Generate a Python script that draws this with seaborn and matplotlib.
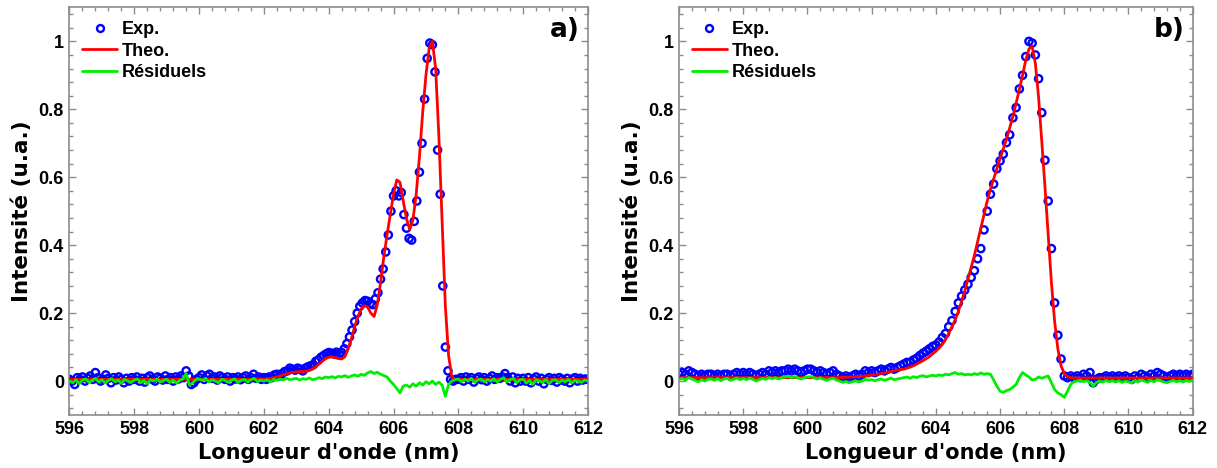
import numpy as np
import pandas as pd
import matplotlib
matplotlib.use("Agg")
import matplotlib.pyplot as plt
from matplotlib.lines import Line2D
from matplotlib.ticker import MultipleLocator, AutoMinorLocator
import seaborn as sns

# ---- panel a) : experimental points (grid 596 -> 612, step 0.08 nm)
exp_a = [
    0.005, 0.0, -0.01, 0.01, 0.005, 0.012, 0.0, 0.008, 0.015, 0.005, 0.025, 0.01, 0.0,
    0.005, 0.018, 0.008, -0.005, 0.01, 0.003, 0.012, 0.005, -0.005, 0.008, 0.0, 0.01,
    0.005, 0.012, 0.0, 0.008, -0.003, 0.01, 0.015, 0.005, 0.0, 0.012, 0.008, 0.003, 0.015,
    0.005, 0.01, 0.0, 0.012, 0.006, 0.015, 0.01, 0.03, 0.015, -0.01, -0.005, 0.005,
    0.01, 0.018, 0.005, 0.015, 0.02, 0.008, 0.012, 0.003, 0.015, 0.01, 0.005, 0.012, 0.0,
    0.01, 0.006, 0.012, 0.004, 0.01, 0.015, 0.005, 0.01, 0.02, 0.008, 0.012, 0.005,
    0.01, 0.005, 0.012, 0.01, 0.018, 0.02, 0.015, 0.022, 0.028, 0.03, 0.038, 0.035, 0.032,
    0.038, 0.035, 0.03, 0.038, 0.042, 0.045, 0.048, 0.058, 0.062, 0.07, 0.075, 0.08,
    0.084, 0.082, 0.08, 0.085, 0.08, 0.084, 0.095, 0.11, 0.13, 0.15, 0.175, 0.2, 0.22,
    0.23, 0.237, 0.235, 0.228, 0.225, 0.242, 0.26, 0.3, 0.33, 0.38, 0.43, 0.5,
    0.545, 0.56, 0.545, 0.555, 0.49, 0.45, 0.42, 0.415, 0.47, 0.53, 0.615, 0.70, 0.83,
    0.95, 0.995, 0.99, 0.91, 0.68, 0.55, 0.28, 0.1, 0.03, 0.005, 0.0, 0.005,
    0.005, 0.01, 0.0, 0.012, 0.005, 0.01, -0.003, 0.008, 0.012, 0.004, 0.01, 0.0, 0.008,
    0.015, 0.005, 0.01, 0.008, 0.012, 0.022, 0.01, 0.0, 0.012, -0.005, 0.008, 0.0,
    0.008, 0.0, 0.01, -0.005, 0.006, 0.012, 0.0, 0.008, -0.008, 0.005, 0.01, 0.002, 0.008,
    -0.003, 0.01, 0.005, 0.0, 0.008, -0.005, 0.006, 0.01, 0.0, 0.008, 0.003, 0.006,
    0.005,
]

# ---- panel a) : fit and residuals (grid 596 -> 612, step 0.1 nm)
theo_a = [
    0.005, 0.005, 0.005, 0.005, 0.005, 0.005, 0.005, 0.005, 0.005, 0.005,
    0.005, 0.005, 0.005, 0.005, 0.005, 0.005, 0.005, 0.005, 0.005, 0.005,
    0.005, 0.005, 0.005, 0.005, 0.005, 0.005, 0.005, 0.005, 0.005, 0.005,
    0.005, 0.005, 0.005, 0.005, 0.005, 0.005, 0.005, 0.005, 0.005, 0.005,
    0.005, 0.005, 0.005, 0.005, 0.005, 0.005, 0.005, 0.005, 0.005, 0.005,
    0.005, 0.005, 0.005, 0.005, 0.005, 0.005, 0.005, 0.005, 0.006, 0.006,
    0.006, 0.006, 0.008, 0.01, 0.012, 0.015, 0.018, 0.021, 0.024, 0.026,
    0.027, 0.028, 0.028, 0.029, 0.031, 0.035, 0.042, 0.05, 0.058, 0.066,
    0.07, 0.071, 0.069, 0.066, 0.065, 0.072, 0.095, 0.125, 0.16, 0.19,
    0.212, 0.222, 0.218, 0.2, 0.19, 0.225, 0.29, 0.365, 0.43, 0.49,
    0.55, 0.592, 0.585, 0.53, 0.478, 0.446, 0.475, 0.55, 0.66, 0.79,
    0.9, 0.98, 1.0, 0.92, 0.72, 0.47, 0.22, 0.075, 0.012, 0.005,
    0.005, 0.005, 0.005, 0.005, 0.005, 0.005, 0.005, 0.005, 0.005, 0.005,
    0.005, 0.005, 0.005, 0.005, 0.005, 0.005, 0.005, 0.005, 0.005, 0.005,
    0.005, 0.005, 0.005, 0.005, 0.005, 0.005, 0.005, 0.005, 0.005, 0.005,
    0.005, 0.005, 0.005, 0.005, 0.005, 0.005, 0.005, 0.005, 0.005, 0.005,
    0.005,
]
res_a = [
    0.0, -0.005, 0.004, -0.008, 0.003, 0.006, -0.004, 0.002, 0.008, -0.003,
    0.004, -0.006, 0.002, 0.007, -0.002, 0.003, -0.007, 0.005, 0.0, -0.004,
    0.003, 0.006, -0.005, 0.002, -0.008, 0.004, 0.0, 0.006, -0.003, 0.002,
    0.005, -0.004, 0.003, -0.006, 0.002, 0.006, 0.022, -0.012, -0.005, 0.004,
    0.006, 0.002, 0.008, -0.003, 0.004, 0.0, -0.005, 0.005, 0.002, -0.004,
    0.003, 0.006, -0.004, 0.002, 0.005, -0.003, 0.004, 0.008, -0.002, 0.003,
    0.0, 0.004, -0.003, 0.005, 0.002, 0.006, 0.003, 0.008, 0.004, 0.006,
    0.008, 0.003, 0.007, 0.005, 0.009, 0.004, 0.006, 0.01, 0.007, 0.012,
    0.01, 0.013, 0.009, 0.014, 0.012, 0.016, 0.011, 0.015, 0.018, 0.014,
    0.02, 0.017, 0.024, 0.028, 0.022, 0.026, 0.02, 0.016, 0.012, 0.0,
    -0.01, -0.022, -0.035, -0.015, -0.012, -0.018, -0.008, -0.015, -0.005, -0.012,
    -0.002, -0.008, 0.0, -0.01, -0.003, -0.012, -0.045, -0.01, 0.0, 0.004,
    0.006, -0.002, 0.005, 0.0, 0.008, -0.004, 0.003, 0.006, -0.002, 0.004,
    0.0, 0.007, -0.003, 0.005, 0.01, -0.002, 0.004, 0.008, -0.005, 0.003,
    0.006, -0.006, 0.002, -0.01, 0.004, 0.0, -0.004, 0.005, -0.008, 0.002,
    0.004, -0.005, 0.003, -0.002, 0.005, -0.006, 0.002, 0.0, -0.004, 0.003,
    0.0,
]

# ---- panel b) : everything on grid 596 -> 612, step 0.1 nm
exp_b = [
    0.02, 0.025, 0.02, 0.03, 0.025, 0.02, 0.015, 0.02, 0.015, 0.02,
    0.02, 0.015, 0.02, 0.015, 0.02, 0.02, 0.015, 0.02, 0.025, 0.02,
    0.025, 0.02, 0.025, 0.02, 0.015, 0.02, 0.025, 0.02, 0.03, 0.025,
    0.03, 0.025, 0.03, 0.03, 0.035, 0.03, 0.035, 0.03, 0.025, 0.03,
    0.035, 0.035, 0.03, 0.025, 0.03, 0.025, 0.02, 0.025, 0.03, 0.02,
    0.015, 0.01, 0.015, 0.01, 0.015, 0.02, 0.015, 0.02, 0.03, 0.025,
    0.03, 0.025, 0.03, 0.035, 0.03, 0.035, 0.04, 0.035, 0.04, 0.045,
    0.05, 0.055, 0.055, 0.062, 0.067, 0.075, 0.082, 0.088, 0.095, 0.102,
    0.106, 0.115, 0.128, 0.14, 0.16, 0.178, 0.205, 0.23, 0.25, 0.268,
    0.285, 0.305, 0.325, 0.36, 0.39, 0.445, 0.5, 0.55, 0.58, 0.625,
    0.648, 0.668, 0.702, 0.725, 0.775, 0.805, 0.86, 0.9, 0.955, 1.0,
    0.995, 0.96, 0.89, 0.79, 0.65, 0.53, 0.39, 0.23, 0.135, 0.065,
    0.015, 0.01, 0.015, 0.01, 0.015, 0.01, 0.02, 0.015, 0.025, -0.005,
    0.005, 0.01, 0.01, 0.015, 0.01, 0.015, 0.01, 0.015, 0.01, 0.015,
    0.01, 0.005, 0.015, 0.01, 0.02, 0.015, 0.01, 0.02, 0.015, 0.025,
    0.02, 0.015, 0.01, 0.015, 0.02, 0.015, 0.02, 0.015, 0.02, 0.015,
    0.02,
]
theo_b = [
    0.01, 0.01, 0.01, 0.01, 0.01, 0.01, 0.01, 0.01, 0.01, 0.01,
    0.01, 0.01, 0.01, 0.01, 0.01, 0.01, 0.01, 0.01, 0.01, 0.01,
    0.01, 0.01, 0.01, 0.01, 0.01, 0.01, 0.01, 0.01, 0.01, 0.01,
    0.01, 0.01, 0.01, 0.01, 0.01, 0.01, 0.01, 0.01, 0.01, 0.01,
    0.01, 0.01, 0.01, 0.01, 0.01, 0.01, 0.01, 0.01, 0.01, 0.01,
    0.01, 0.011, 0.011, 0.012, 0.012, 0.013, 0.013, 0.014, 0.015, 0.016,
    0.018, 0.019, 0.02, 0.022, 0.024, 0.026, 0.028, 0.03, 0.032, 0.034,
    0.035, 0.038, 0.041, 0.045, 0.05, 0.055, 0.06, 0.066, 0.072, 0.08,
    0.088, 0.097, 0.108, 0.122, 0.14, 0.16, 0.18, 0.205, 0.235, 0.265,
    0.3, 0.335, 0.37, 0.41, 0.45, 0.49, 0.53, 0.565, 0.595, 0.625,
    0.655, 0.683, 0.712, 0.745, 0.78, 0.818, 0.858, 0.9, 0.945, 0.978,
    0.985, 0.935, 0.835, 0.705, 0.57, 0.43, 0.29, 0.175, 0.095, 0.045,
    0.022, 0.013, 0.01, 0.009, 0.009, 0.009, 0.009, 0.009, 0.009, 0.009,
    0.009, 0.009, 0.009, 0.009, 0.009, 0.009, 0.009, 0.009, 0.009, 0.009,
    0.009, 0.009, 0.009, 0.009, 0.009, 0.009, 0.009, 0.009, 0.009, 0.009,
    0.009, 0.009, 0.009, 0.009, 0.009, 0.009, 0.009, 0.009, 0.009, 0.009,
    0.009,
]
res_b = [
    0.005, 0.008, 0.003, 0.01, 0.006, 0.002, -0.002, 0.004, 0.0, 0.005,
    0.006, 0.002, 0.007, 0.001, 0.006, 0.008, 0.002, 0.005, 0.009, 0.004,
    0.008, 0.004, 0.009, 0.005, 0.0, 0.004, 0.008, 0.005, 0.01, 0.007,
    0.01, 0.006, 0.01, 0.012, 0.014, 0.01, 0.013, 0.009, 0.006, 0.01,
    0.012, 0.013, 0.01, 0.006, 0.009, 0.005, 0.002, 0.006, 0.008, 0.003,
    0.0, -0.004, -0.001, -0.005, -0.002, 0.001, -0.003, 0.0, 0.005, 0.003,
    0.004, 0.001, 0.004, 0.006, 0.002, 0.005, 0.009, 0.004, 0.006, 0.008,
    0.01, 0.012, 0.008, 0.013, 0.01, 0.014, 0.016, 0.012, 0.015, 0.017,
    0.015, 0.018, 0.016, 0.02, 0.018, 0.022, 0.025, 0.02, 0.022, 0.018,
    0.02, 0.018, 0.022, 0.019, 0.024, 0.02, 0.022, 0.02, 0.003, -0.015,
    -0.03, -0.033, -0.028, -0.025, -0.018, -0.01, 0.01, 0.025, 0.018, 0.012,
    0.003, 0.005, 0.012, 0.008, 0.012, 0.015, -0.005, -0.025, -0.035, -0.04,
    -0.048, -0.03, -0.01, -0.002, 0.0, 0.002, -0.002, 0.001, -0.004, -0.015,
    -0.004, 0.0, -0.003, 0.002, -0.002, 0.001, -0.003, 0.001, -0.004, 0.0,
    -0.002, -0.006, 0.002, -0.003, 0.003, 0.0, -0.004, 0.002, -0.002, 0.004,
    0.001, -0.003, -0.005, -0.001, 0.002, -0.002, 0.001, -0.003, 0.002, -0.001,
    0.002,
]

wl_min, wl_max = 596, 612

sns.set_theme(style="ticks")
plt.rcParams["font.family"] = ["Liberation Sans", "DejaVu Sans"]
plt.rcParams["font.weight"] = "bold"
plt.rcParams["text.color"] = "black"
plt.rcParams["axes.labelcolor"] = "black"
plt.rcParams["xtick.labelcolor"] = "black"
plt.rcParams["ytick.labelcolor"] = "black"

BLUE = "#0000ff"
RED = "#ff0000"
GREEN = "#00ee00"
FRAME = "#8c8c8c"


def draw_panel(ax, y_exp, y_theo, y_res, tag):
    x_exp = np.linspace(wl_min, wl_max, len(y_exp))
    x_fit = np.linspace(wl_min, wl_max, len(y_theo))
    df_exp = pd.DataFrame({"wl": x_exp, "I": y_exp})
    df_fit = pd.DataFrame({"wl": x_fit, "theo": y_theo, "res": y_res})

    sns.scatterplot(data=df_exp, x="wl", y="I", ax=ax, marker="o", s=27,
                    facecolors="none", edgecolor=BLUE, linewidth=1.7, zorder=2)
    sns.lineplot(data=df_fit, x="wl", y="theo", ax=ax, color=RED,
                 linewidth=2.0, zorder=3)
    sns.lineplot(data=df_fit, x="wl", y="res", ax=ax, color=GREEN,
                 linewidth=2.0, zorder=4)

    ax.set_xlim(wl_min, wl_max)
    ax.set_ylim(-0.1, 1.1)
    ax.xaxis.set_major_locator(MultipleLocator(2))
    ax.xaxis.set_minor_locator(AutoMinorLocator(5))
    ax.yaxis.set_major_locator(MultipleLocator(0.2))
    ax.yaxis.set_minor_locator(AutoMinorLocator(5))
    ax.set_yticks([0, 0.2, 0.4, 0.6, 0.8, 1.0])
    ax.set_yticklabels(["0", "0.2", "0.4", "0.6", "0.8", "1"])

    ax.tick_params(which="both", direction="in", top=True, right=True,
                   color=FRAME, width=1.0)
    ax.tick_params(which="major", length=5)
    ax.tick_params(which="minor", length=3)
    ax.tick_params(axis="x", which="major", labelsize=13, pad=4)
    ax.tick_params(axis="y", which="major", labelsize=13, pad=4)
    for lab in ax.get_xticklabels() + ax.get_yticklabels():
        lab.set_fontweight("bold")
    for sp in ax.spines.values():
        sp.set_color(FRAME)
        sp.set_linewidth(1.2)
        sp.set_visible(True)

    ax.set_xlabel("Longueur d'onde (nm)", fontsize=15, fontweight="bold",
                  family="DejaVu Sans")
    ax.set_ylabel("Intensité (u.a.)", fontsize=15.5, fontweight="bold",
                  family="DejaVu Sans")
    ax.xaxis.set_label_coords(0.5, -0.068)
    ax.yaxis.set_label_coords(-0.072, 0.5)

    ax.text(0.985, 0.944, tag, transform=ax.transAxes, ha="right", va="center",
            fontsize=19, fontweight="bold", family="DejaVu Sans")

    handles = [
        Line2D([], [], linestyle="none", marker="o", markersize=5.0,
               markerfacecolor="none", markeredgecolor=BLUE, markeredgewidth=1.7),
        Line2D([], [], color=RED, linewidth=2.0),
        Line2D([], [], color=GREEN, linewidth=2.0),
    ]
    ax.legend(handles, ["Exp.", "Theo.", "Résiduels"], loc="upper left",
              frameon=False, prop={"weight": "bold", "size": 13},
              handlelength=1.95, handletextpad=0.25, labelspacing=0.25,
              borderaxespad=0.3, bbox_to_anchor=(0.0, 0.997))


fig = plt.figure(figsize=(12.17, 4.68), dpi=100)
ax_a = fig.add_axes([0.0571, 0.1132, 0.426, 0.871])
ax_b = fig.add_axes([0.558, 0.1132, 0.422, 0.871])

draw_panel(ax_a, exp_a, theo_a, res_a, "a)")
draw_panel(ax_b, exp_b, theo_b, res_b, "b)")

fig.savefig("out.png", dpi=100)
plt.close(fig)
